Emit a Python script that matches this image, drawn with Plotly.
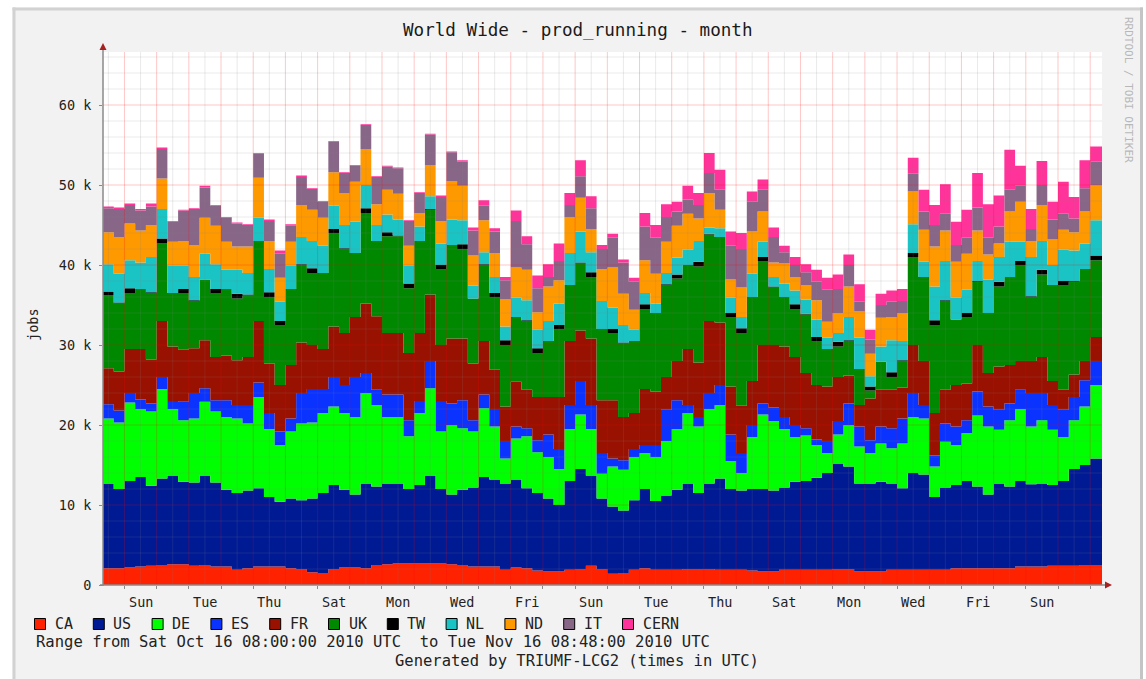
import pandas as pd
import plotly.graph_objects as go

# ---------------- data: running jobs (thousands), 8-hour samples ----------------
START = "2010-10-16 08:00"
END = "2010-11-16 08:48"
STEP_HOURS = 8

CA = [2.1,2.1,2.2,2.3,2.4,2.5,2.6,2.6,2.4,2.5,
      2.3,2.3,1.9,2.1,2.3,2.3,2.3,2.1,2.0,1.6,
      1.5,2.0,2.2,2.2,2.1,2.5,2.6,2.7,2.7,2.7,
      2.7,2.7,2.6,2.5,2.3,2.3,2.3,1.9,2.2,2.1,
      1.8,1.7,1.7,1.9,2.0,2.4,2.0,1.4,1.5,1.9,
      2.1,1.9,1.9,1.9,2.0,2.0,2.0,1.9,1.9,1.9,
      1.8,1.7,1.7,1.9,1.9,1.9,1.9,1.9,2.0,2.0,
      1.7,1.7,1.7,1.9,1.9,1.9,1.9,1.9,1.9,2.1,
      2.1,2.1,2.1,2.1,2.1,2.3,2.3,2.3,2.4,2.4,
      2.4,2.5,2.5]
US = [10.6,9.9,10.8,11.2,10.0,10.8,11.1,10.3,10.4,11.2,
      10.5,9.6,9.6,9.7,9.8,8.7,8.1,8.7,8.6,9.2,
      10.0,10.5,9.7,9.1,10.6,9.8,10.1,10.0,9.3,9.8,
      11.0,9.3,8.7,9.4,9.9,11.2,10.9,10.8,11.0,10.0,
      9.7,9.1,8.3,11.1,12.5,11.3,8.8,8.4,7.8,8.7,
      9.9,8.6,9.3,10.0,10.7,9.5,10.7,11.4,10.1,9.9,
      10.2,10.3,10.1,10.3,11.0,11.1,11.5,12.1,13.2,12.8,
      11.0,11.0,11.2,10.8,10.2,12.1,11.9,9.1,10.3,10.4,
      10.9,10.2,9.2,10.6,10.2,10.7,10.3,10.4,10.1,10.6,
      12.1,12.5,13.3]
DE = [8.1,8.3,9.8,8.5,9.3,11.2,8.3,7.7,8.0,9.2,
      8.9,9.1,9.3,8.4,11.4,8.5,7.1,8.4,9.6,9.5,
      10.0,9.8,9.6,9.7,11.3,10.2,8.3,8.3,6.6,9.0,
      10.9,7.2,8.7,7.7,7.0,8.6,6.6,3.1,5.1,6.5,
      5.1,5.2,4.5,6.5,6.8,5.8,3.1,5.0,5.1,5.4,
      4.5,5.5,6.8,7.6,8.8,8.3,9.3,9.2,3.5,2.2,
      6.5,9.3,8.7,7.3,5.6,5.7,4.1,2.5,3.6,5.2,
      4.6,3.8,4.8,4.4,5.6,7.0,7.0,3.8,5.7,5.0,
      6.0,8.9,8.5,6.7,8.3,9.0,7.2,7.9,6.9,5.5,
      6.1,7.3,9.2]
ES = [1.8,1.5,1.2,1.2,1.0,1.5,1.0,2.3,3.2,1.7,
      1.4,2.1,1.7,2.3,1.8,2.0,1.7,1.6,3.8,4.2,
      3.0,3.7,3.5,5.0,2.5,1.9,2.8,2.8,2.0,1.5,
      3.4,3.8,2.7,3.5,1.4,1.7,2.2,2.2,1.5,1.0,
      1.5,2.8,2.5,3.0,4.2,3.0,2.6,1.0,1.2,1.0,
      1.0,1.5,3.9,3.6,1.0,1.2,2.0,2.5,3.3,2.5,
      1.5,1.4,1.7,1.5,1.5,0.9,0.7,1.5,1.7,2.7,
      2.5,1.6,2.1,2.5,3.1,3.0,1.7,1.4,2.3,2.3,
      1.6,3.0,2.5,2.5,2.1,2.4,4.2,3.4,3.1,3.4,
      2.9,3.3,3.0]
FR = [4.5,4.9,5.5,6.3,5.5,7.0,6.8,6.5,5.6,6.0,
      5.4,5.6,5.6,6.0,7.7,6.2,5.8,6.7,6.3,5.5,
      5.0,6.3,6.5,7.5,8.7,9.2,7.7,7.7,8.4,8.5,
      8.3,7.0,8.1,7.7,7.1,6.7,4.9,4.3,5.6,4.8,
      5.4,4.7,6.5,8.0,6.3,8.3,6.6,7.3,5.4,4.5,
      7.0,6.7,4.1,4.9,7.0,6.8,9.0,7.8,6.0,5.9,
      5.5,7.3,7.8,8.8,8.5,6.9,6.8,6.8,5.5,3.5,
      2.7,5.2,4.6,4.8,3.9,6.0,5.5,5.3,4.2,5.2,
      4.6,5.8,4.2,5.4,4.8,3.6,4.0,4.5,3.0,2.5,
      2.8,2.4,3.0]
UK = [9.1,8.5,7.0,7.5,8.3,9.7,6.7,7.1,5.9,7.6,
      8.0,8.3,7.7,7.7,10.0,8.3,7.5,9.5,9.7,9.0,
      9.5,11.7,10.5,8.0,11.3,9.4,12.1,12.1,8.1,11.5,
      10.6,9.5,11.7,11.2,8.1,9.5,9.1,7.7,8.1,8.6,
      5.5,7.0,8.5,7.0,8.4,7.7,8.9,8.4,9.2,9.0,
      10.0,9.8,11.5,10.3,10.5,12.0,10.8,10.7,8.7,9.1,
      10.5,10.5,7.2,6.2,6.0,7.3,5.5,4.7,3.8,4.3,
      4.5,1.0,3.5,1.6,3.3,11.0,10.5,11.0,11.1,8.2,
      8.3,7.9,7.5,10.0,11.0,12.0,8.0,10.3,12.0,13.1,
      11.6,11.5,9.6]
TW = [0.5,0.1,0.6,0.0,0.1,0.6,0.0,0.5,0.1,0.0,
      0.5,0.0,0.6,0.1,0.0,0.6,0.5,0.0,0.1,0.6,
      0.0,0.5,0.1,0.0,0.6,0.0,0.5,0.1,0.6,0.0,
      0.1,0.5,0.0,0.6,0.0,0.1,0.5,0.6,0.0,0.1,
      0.6,0.0,0.5,0.0,0.1,0.6,0.0,0.5,0.1,0.0,
      0.6,0.0,0.1,0.5,0.0,0.6,0.1,0.0,0.5,0.6,
      0.0,0.5,0.1,0.0,0.6,0.1,0.5,0.0,0.6,0.1,
      0.0,0.5,0.0,0.6,0.1,0.5,0.0,0.6,0.1,0.0,
      0.5,0.1,0.0,0.6,0.0,0.5,0.1,0.6,0.0,0.5,
      0.1,0.0,0.6]
NL = [3.4,3.6,3.5,3.3,4.4,3.7,3.4,2.9,2.9,3.2,
      3.1,2.4,3.0,2.7,2.9,2.9,2.4,2.9,3.4,3.4,
      3.4,2.9,2.9,3.9,2.9,2.0,2.2,2.0,2.2,1.8,
      1.6,2.7,3.2,3.0,1.6,1.5,2.0,1.7,2.4,2.5,
      2.3,2.5,2.7,4.0,3.9,2.5,3.5,2.7,2.2,1.4,
      1.4,1.2,1.4,2.1,1.9,2.6,0.8,1.1,1.9,1.4,
      2.9,1.9,1.2,1.7,1.7,1.8,2.2,1.4,1.1,2.9,
      3.9,1.3,1.9,4.0,2.4,3.6,1.9,4.2,4.9,2.7,
      2.9,2.5,4.2,3.1,4.4,2.4,4.9,3.6,2.5,3.9,
      3.8,3.2,4.4]
ND = [4.0,4.6,4.6,4.0,4.0,3.8,3.0,3.1,4.0,4.5,
      4.8,3.5,2.9,3.3,5.0,3.5,3.0,3.0,4.0,3.9,
      3.5,4.2,4.0,5.0,4.5,2.6,3.1,3.2,2.5,1.7,
      3.9,2.8,4.8,4.3,3.8,4.0,3.0,3.4,3.8,3.8,
      2.2,4.3,2.9,4.5,4.2,2.9,4.0,5.0,3.9,2.5,
      4.1,3.7,3.9,4.0,4.5,2.8,4.3,2.3,2.3,3.7,
      5.3,3.8,1.8,2.5,1.7,1.8,2.4,2.0,2.5,3.8,
      3.3,2.8,3.6,2.9,3.5,4.1,4.0,5.0,3.8,4.5,
      4.5,3.8,3.1,1.7,3.8,5.0,2.0,4.5,3.2,2.5,
      2.3,4.0,4.4]
IT = [3.0,3.5,2.3,2.5,2.3,3.7,2.5,3.8,4.5,3.8,
      2.5,3.0,2.9,2.7,3.0,2.5,3.0,2.0,3.5,2.6,
      2.0,3.8,2.5,2.0,3.0,3.4,2.9,3.2,3.1,2.5,
      3.8,3.0,3.6,3.0,3.1,1.8,2.7,2.4,5.8,3.2,
      3.0,1.2,2.4,1.5,2.7,2.6,2.5,3.7,3.9,3.5,
      4.2,4.5,3.1,1.8,1.8,1.7,2.5,2.5,4.2,4.8,
      3.7,2.7,3.2,1.4,1.5,1.6,2.3,4.0,3.0,2.7,
      1.2,1.8,1.6,1.9,1.5,2.2,2.3,2.7,2.1,2.1,
      2.0,2.9,2.1,2.1,2.7,2.0,1.5,2.5,2.5,2.0,
      1.7,2.9,2.9]
CERN = [0.2,0.2,0.2,0.2,0.4,0.2,0.1,0.1,0.1,0.2,
        0.1,0.1,0.1,0.1,0.1,0.2,0.4,0.2,0.2,0.1,
        0.1,0.1,0.1,0.1,0.1,0.1,0.1,0.1,0.1,0.1,
        0.1,0.2,0.1,0.2,0.4,0.7,0.4,0.4,1.3,1.0,
        1.6,1.6,2.2,1.5,2.0,1.5,0.5,0.5,0.4,0.5,
        1.7,1.6,1.6,1.2,1.7,1.5,2.5,2.5,1.8,2.0,
        1.3,1.3,1.2,0.8,1.0,1.0,1.5,1.5,1.8,1.3,
        2.2,1.2,1.4,1.4,1.5,2.0,2.7,2.5,3.7,2.9,
        3.5,4.3,4.2,3.9,5.0,2.5,2.5,3.0,2.2,4.0,
        2.7,3.5,1.9]

SERIES = ["CA", "US", "DE", "ES", "FR", "UK", "TW", "NL", "ND", "IT", "CERN"]
VALUES = {"CA": CA, "US": US, "DE": DE, "ES": ES, "FR": FR, "UK": UK,
          "TW": TW, "NL": NL, "ND": ND, "IT": IT, "CERN": CERN}
COLORS = {"CA": "#FF2200", "US": "#001A94", "DE": "#00FF00", "ES": "#0A33FF",
          "FR": "#991100", "UK": "#008800", "TW": "#000000", "NL": "#1AC4C4",
          "ND": "#FF9900", "IT": "#886688", "CERN": "#FF3399"}

DAY_LABEL_DATES = ["2010-10-17", "2010-10-19", "2010-10-21", "2010-10-23", "2010-10-25",
                   "2010-10-27", "2010-10-29", "2010-10-31", "2010-11-02", "2010-11-04",
                   "2010-11-06", "2010-11-08", "2010-11-10", "2010-11-12", "2010-11-14"]
DAY_LABELS = ["Sun", "Tue", "Thu", "Sat", "Mon", "Wed", "Fri", "Sun",
              "Tue", "Thu", "Sat", "Mon", "Wed", "Fri", "Sun"]
Y_TICKS = [0, 10, 20, 30, 40, 50, 60]
Y_TICK_TEXT = ["0", "10 k", "20 k", "30 k", "40 k", "50 k", "60 k"]
Y_MAX = 66.625

TITLE = "World Wide - prod_running - month"
RANGE_TEXT = "Range from Sat Oct 16 08:00:00 2010 UTC\u00a0 to Tue Nov 16 08:48:00 2010 UTC"
GEN_TEXT = "Generated by TRIUMF-LCG2 (times in UTC)"
SIDE_TEXT = "RRDTOOL / TOBI OETIKER"

# ---------------- geometry helpers (pixels -> paper) ----------------
W, H = 1146, 679
L, R, T, B = 103, 1102, 52, 585
def px(x):
    return (x - L) / (R - L)
def py(y):
    return (B - y) / (B - T)

MONO = "DejaVu Sans Mono"
start = pd.Timestamp(START)
end = pd.Timestamp(END)
times = pd.date_range(start, periods=len(CA), freq=f"{STEP_HOURS}h")
xs = [t.strftime("%Y-%m-%d %H:%M") for t in times] + [end.strftime("%Y-%m-%d %H:%M")]

fig = go.Figure()
for name in SERIES:
    vals = VALUES[name]
    fig.add_trace(go.Scatter(
        x=xs, y=list(vals) + [vals[-1]], name=name, mode="lines",
        stackgroup="all", line=dict(width=0, shape="hv", color=COLORS[name]),
        fillcolor=COLORS[name], hoverinfo="skip"))

shapes = []
# canvas margins / frame
shapes.append(dict(type="rect", xref="paper", yref="paper", x0=px(0), x1=px(W), y0=py(0), y1=py(7.5),
                   fillcolor="white", line=dict(width=0), layer="below"))
shapes.append(dict(type="rect", xref="paper", yref="paper", x0=px(0), x1=px(12.5), y0=py(0), y1=py(H),
                   fillcolor="white", line=dict(width=0), layer="below"))
shapes.append(dict(type="rect", xref="paper", yref="paper", x0=px(1143), x1=px(W), y0=py(0), y1=py(H),
                   fillcolor="white", line=dict(width=0), layer="below"))
shapes.append(dict(type="line", xref="paper", yref="paper", x0=px(12.5), x1=px(1143), y0=py(9), y1=py(9),
                   line=dict(color="#D2D2D2", width=3), layer="below"))
shapes.append(dict(type="line", xref="paper", yref="paper", x0=px(14), x1=px(14), y0=py(7.5), y1=py(H),
                   line=dict(color="#D2D2D2", width=3), layer="below"))
shapes.append(dict(type="line", xref="paper", yref="paper", x0=px(1141.5), x1=px(1141.5), y0=py(7.5), y1=py(H),
                   line=dict(color="#C4C4C4", width=3), layer="below"))

# grid (drawn over the data, translucent like rrdtool)
minor_col = "rgba(130,130,130,0.17)"
major_col = "rgba(255,0,0,0.22)"
for t in pd.date_range("2010-10-16 12:00", "2010-11-15 12:00", freq="D"):
    shapes.append(dict(type="line", xref="x", yref="paper", x0=t.strftime("%Y-%m-%d %H:%M"),
                       x1=t.strftime("%Y-%m-%d %H:%M"), y0=0, y1=1,
                       line=dict(color=minor_col, width=1), layer="above"))
for t in pd.date_range("2010-10-17", "2010-11-16", freq="D"):
    shapes.append(dict(type="line", xref="x", yref="paper", x0=t.strftime("%Y-%m-%d %H:%M"),
                       x1=t.strftime("%Y-%m-%d %H:%M"), y0=0, y1=1,
                       line=dict(color=major_col, width=1), layer="above"))
for v in range(2, 67, 2):
    col = major_col if v % 10 == 0 else minor_col
    shapes.append(dict(type="line", xref="paper", yref="y", x0=0, x1=1, y0=v, y1=v,
                       line=dict(color=col, width=1), layer="above"))

# axes with arrows
axis_col = "#8A8A8A"
arrow_col = "#A82020"
shapes.append(dict(type="line", xref="paper", yref="paper", x0=px(103), x1=px(103), y0=py(586), y1=py(48),
                   line=dict(color=axis_col, width=1.5), layer="above"))
shapes.append(dict(type="line", xref="paper", yref="paper", x0=px(100), x1=px(1106), y0=py(585), y1=py(585),
                   line=dict(color=axis_col, width=1.5), layer="above"))
shapes.append(dict(type="path", xref="paper", yref="paper",
                   path=f"M {px(99.5)},{py(50)} L {px(106.5)},{py(50)} L {px(103)},{py(43)} Z",
                   fillcolor=arrow_col, line=dict(width=0), layer="above"))
shapes.append(dict(type="path", xref="paper", yref="paper",
                   path=f"M {px(1105)},{py(581.5)} L {px(1105)},{py(588.5)} L {px(1112)},{py(585)} Z",
                   fillcolor=arrow_col, line=dict(width=0), layer="above"))

annotations = []
# legend
for k, name in enumerate(SERIES):
    x0 = 34.5 + 58.8 * k
    shapes.append(dict(type="rect", xref="paper", yref="paper", x0=px(x0), x1=px(x0 + 11),
                       y0=py(629.5), y1=py(618.5), fillcolor=COLORS[name],
                       line=dict(color="#000000", width=1), layer="above"))
    annotations.append(dict(text=name, xref="paper", yref="paper", x=px(x0 + 18), y=py(624),
                            xanchor="left", yanchor="middle", showarrow=False,
                            font=dict(family=MONO, size=15, color="#222222")))

# day labels
for d, lab in zip(DAY_LABEL_DATES, DAY_LABELS):
    annotations.append(dict(text=lab, xref="x", yref="paper",
                            x=(pd.Timestamp(d) + pd.Timedelta(hours=12)).strftime("%Y-%m-%d %H:%M"),
                            y=py(602), xanchor="center", yanchor="middle", showarrow=False,
                            font=dict(family=MONO, size=13.5, color="#222222")))

annotations += [
    dict(text=TITLE, xref="paper", yref="paper", x=px(578), y=py(30), xanchor="center", yanchor="middle",
         showarrow=False, font=dict(family=MONO, size=17.6, color="#1A1A1A")),
    dict(text=RANGE_TEXT, xref="paper", yref="paper", x=px(34), y=py(642), xanchor="left", yanchor="middle",
         showarrow=False, font=dict(family=MONO, size=15.55, color="#222222")),
    dict(text=GEN_TEXT, xref="paper", yref="paper", x=px(577), y=py(661), xanchor="center", yanchor="middle",
         showarrow=False, font=dict(family=MONO, size=15.5, color="#222222")),
    dict(text="jobs", xref="paper", yref="paper", x=px(33), y=py(325), xanchor="center", yanchor="middle",
         textangle=-90, showarrow=False, font=dict(family=MONO, size=13.5, color="#222222")),
    dict(text=SIDE_TEXT, xref="paper", yref="paper", x=px(1129), y=py(90), xanchor="center", yanchor="middle",
         textangle=90, showarrow=False, font=dict(family=MONO, size=11, color="#B8B8B8")),
]

fig.update_layout(
    width=W, height=H, autosize=False,
    margin=dict(l=L, r=W - R, t=T, b=H - B, pad=0),
    paper_bgcolor="#F2F2F2", plot_bgcolor="#FFFFFF",
    showlegend=False, shapes=shapes, annotations=annotations,
    hovermode=False,
)
fig.update_xaxes(type="date", range=[start.strftime("%Y-%m-%d %H:%M"), end.strftime("%Y-%m-%d %H:%M")],
                 showgrid=False, zeroline=False, showline=False, fixedrange=True,
                 tickmode="array",
                 tickvals=[t.strftime("%Y-%m-%d") for t in pd.date_range("2010-10-17", "2010-11-16", freq="D")],
                 ticks="outside", ticklen=3, tickcolor=axis_col, showticklabels=False)
fig.update_yaxes(range=[0, Y_MAX], tickmode="array", tickvals=Y_TICKS, ticktext=Y_TICK_TEXT,
                 showgrid=False, zeroline=False, showline=False, fixedrange=True,
                 ticks="outside", ticklen=3, tickcolor=axis_col, ticklabelstandoff=5,
                 tickfont=dict(family=MONO, size=13.5, color="#222222"))

fig.write_html("out.html", config={"displayModeBar": False},
               post_script="document.body.style.margin='0';document.body.style.overflow='hidden';")
